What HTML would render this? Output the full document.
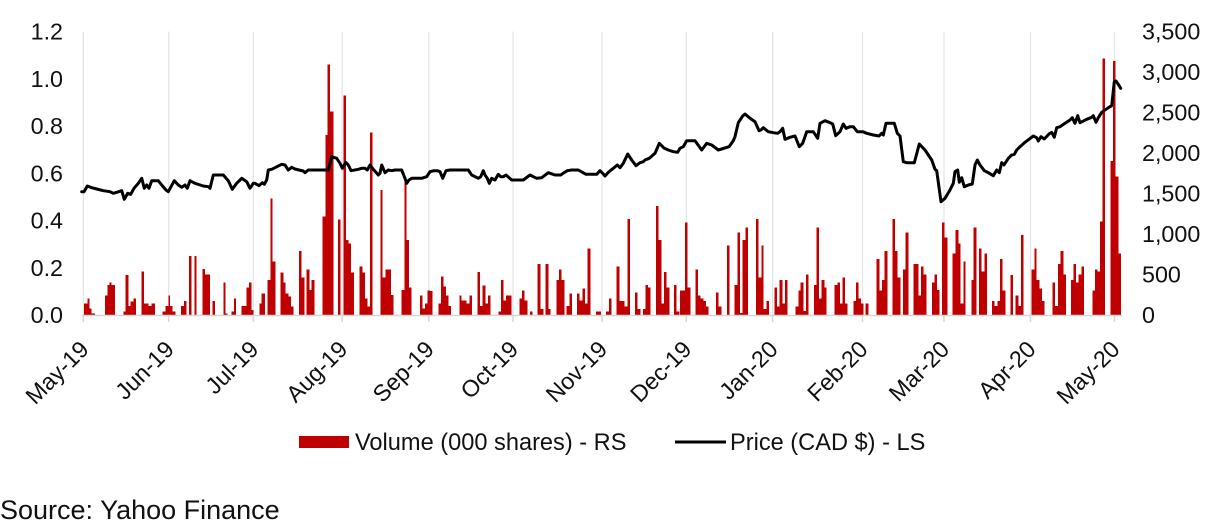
<!DOCTYPE html>
<html>
<head>
<meta charset="utf-8">
<style>
html,body{margin:0;padding:0;background:#fff;}
body{width:1205px;height:526px;overflow:hidden;}
svg{display:block;}
text{font-family:"Liberation Sans",Arial,sans-serif;fill:#111;}
</style>
</head>
<body>
<svg width="1205" height="526" viewBox="0 0 1205 526" xmlns="http://www.w3.org/2000/svg">
<rect x="0" y="0" width="1205" height="526" fill="#fff"/>

<g stroke="#e4e4e4" stroke-width="1.2">
<line x1="83.4" y1="31.5" x2="83.4" y2="315"/>
<line x1="168.7" y1="31.5" x2="168.7" y2="315"/>
<line x1="253.3" y1="31.5" x2="253.3" y2="315"/>
<line x1="342.2" y1="31.5" x2="342.2" y2="315"/>
<line x1="428.8" y1="31.5" x2="428.8" y2="315"/>
<line x1="513" y1="31.5" x2="513" y2="315"/>
<line x1="602" y1="31.5" x2="602" y2="315"/>
<line x1="686.3" y1="31.5" x2="686.3" y2="315"/>
<line x1="772.6" y1="31.5" x2="772.6" y2="315"/>
<line x1="862.5" y1="31.5" x2="862.5" y2="315"/>
<line x1="944" y1="31.5" x2="944" y2="315"/>
<line x1="1030.5" y1="31.5" x2="1030.5" y2="315"/>
<line x1="1114.5" y1="31.5" x2="1114.5" y2="315"/>
</g>

<g fill="#c00000" shape-rendering="crispEdges">
<rect x="84" y="303.3" width="3.3" height="11.7"/>
<rect x="87.3" y="298.3" width="2" height="16.7"/>
<rect x="89.3" y="308.3" width="2" height="6.7"/>
<rect x="91.3" y="313.3" width="3.7" height="1.7"/>
<rect x="105" y="295.7" width="2.3" height="19.3"/>
<rect x="107.3" y="285" width="2" height="30"/>
<rect x="109.3" y="282.7" width="2.4" height="32.3"/>
<rect x="111.7" y="285" width="3.3" height="30"/>
<rect x="123.3" y="311.7" width="2.4" height="3.3"/>
<rect x="125.7" y="275" width="2.6" height="40"/>
<rect x="128.3" y="306" width="2.4" height="9"/>
<rect x="130.7" y="301.7" width="2.6" height="13.3"/>
<rect x="133.3" y="298.3" width="2.7" height="16.7"/>
<rect x="141.7" y="271.7" width="2.3" height="43.3"/>
<rect x="144" y="303.3" width="4.3" height="11.7"/>
<rect x="148.3" y="306" width="3.4" height="9"/>
<rect x="151.7" y="303.3" width="3.3" height="11.7"/>
<rect x="162.7" y="311.7" width="2.6" height="3.3"/>
<rect x="165.3" y="306" width="3" height="9"/>
<rect x="168.3" y="295.7" width="1.7" height="19.3"/>
<rect x="170" y="306" width="2.7" height="9"/>
<rect x="172.7" y="311.7" width="3" height="3.3"/>
<rect x="181" y="306" width="3" height="9"/>
<rect x="184" y="301" width="2.7" height="14"/>
<rect x="189" y="256" width="2.7" height="59"/>
<rect x="194.3" y="256" width="2.4" height="59"/>
<rect x="202.3" y="269" width="2.7" height="46"/>
<rect x="205" y="274.3" width="5" height="40.7"/>
<rect x="212.3" y="301" width="2.7" height="14"/>
<rect x="223.3" y="282.3" width="2.4" height="32.7"/>
<rect x="225.7" y="313.3" width="2" height="1.7"/>
<rect x="231.7" y="311.7" width="2.3" height="3.3"/>
<rect x="234" y="298.3" width="2" height="16.7"/>
<rect x="241.7" y="306" width="5" height="9"/>
<rect x="246.7" y="287.3" width="2.3" height="27.7"/>
<rect x="249" y="282.3" width="2.7" height="32.7"/>
<rect x="251.7" y="310" width="1.6" height="5"/>
<rect x="259.7" y="303.3" width="2" height="11.7"/>
<rect x="261.7" y="293.3" width="3.3" height="21.7"/>
<rect x="267.7" y="280" width="2.6" height="35"/>
<rect x="270.3" y="198.3" width="2.4" height="116.7"/>
<rect x="272.7" y="261.7" width="3" height="53.3"/>
<rect x="280.7" y="272.3" width="2.6" height="42.7"/>
<rect x="283.3" y="282.7" width="2.4" height="32.3"/>
<rect x="285.7" y="293.3" width="2.6" height="21.7"/>
<rect x="288.3" y="296.7" width="2.7" height="18.3"/>
<rect x="291" y="306.7" width="2.7" height="8.3"/>
<rect x="299" y="251" width="2.7" height="64"/>
<rect x="301.7" y="277.7" width="2.6" height="37.3"/>
<rect x="306.7" y="269.3" width="2.6" height="45.7"/>
<rect x="309.3" y="290" width="2.4" height="25"/>
<rect x="311.7" y="280" width="3" height="35"/>
<rect x="322.7" y="216.7" width="3" height="98.3"/>
<rect x="325.7" y="135" width="2" height="180"/>
<rect x="327.7" y="64.3" width="2.3" height="250.7"/>
<rect x="330" y="111.7" width="3.3" height="203.3"/>
<rect x="338" y="219.3" width="2.7" height="95.7"/>
<rect x="343.3" y="95.7" width="2.7" height="219.3"/>
<rect x="346" y="240" width="2.3" height="75"/>
<rect x="348.3" y="243.3" width="2.7" height="71.7"/>
<rect x="351" y="272.3" width="3" height="42.7"/>
<rect x="359.3" y="266.7" width="3" height="48.3"/>
<rect x="362.3" y="272.3" width="2.7" height="42.7"/>
<rect x="365" y="298.3" width="2.3" height="16.7"/>
<rect x="367.3" y="306.7" width="2.7" height="8.3"/>
<rect x="370" y="132.3" width="2.3" height="182.7"/>
<rect x="380.3" y="190" width="2.4" height="125"/>
<rect x="382.7" y="277.7" width="3" height="37.3"/>
<rect x="385.7" y="269.3" width="5.3" height="45.7"/>
<rect x="391" y="295" width="2.3" height="20"/>
<rect x="401.7" y="290" width="2.6" height="25"/>
<rect x="404.3" y="178.3" width="2.4" height="136.7"/>
<rect x="406.7" y="240" width="2.3" height="75"/>
<rect x="409" y="287.7" width="2.7" height="27.3"/>
<rect x="420" y="295.7" width="2.7" height="19.3"/>
<rect x="422.7" y="308.3" width="2.3" height="6.7"/>
<rect x="425" y="303.3" width="2.7" height="11.7"/>
<rect x="427.7" y="290.3" width="2.3" height="24.7"/>
<rect x="430" y="291" width="2.7" height="24"/>
<rect x="438.3" y="303.3" width="2.7" height="11.7"/>
<rect x="441" y="276.7" width="2.3" height="38.3"/>
<rect x="443.3" y="286.7" width="2.7" height="28.3"/>
<rect x="446" y="295.7" width="2.3" height="19.3"/>
<rect x="448.3" y="306" width="2.7" height="9"/>
<rect x="459.3" y="295.7" width="2.4" height="19.3"/>
<rect x="461.7" y="300.7" width="5" height="14.3"/>
<rect x="466.7" y="303.3" width="2.6" height="11.7"/>
<rect x="469.3" y="295.7" width="2.7" height="19.3"/>
<rect x="477.7" y="272" width="2.3" height="43"/>
<rect x="480" y="306" width="2.7" height="9"/>
<rect x="482.7" y="285.7" width="2.6" height="29.3"/>
<rect x="485.3" y="303.3" width="2.7" height="11.7"/>
<rect x="488" y="295.7" width="2.7" height="19.3"/>
<rect x="498.3" y="311.7" width="2.7" height="3.3"/>
<rect x="501" y="280" width="2.3" height="35"/>
<rect x="503.3" y="300.7" width="2.7" height="14.3"/>
<rect x="506" y="295.7" width="2.7" height="19.3"/>
<rect x="508.7" y="295.7" width="2.6" height="19.3"/>
<rect x="519.3" y="298.3" width="2.7" height="16.7"/>
<rect x="522" y="290.7" width="2.3" height="24.3"/>
<rect x="524.3" y="300.7" width="3" height="14.3"/>
<rect x="530" y="311.7" width="2.7" height="3.3"/>
<rect x="537.7" y="264" width="2.6" height="51"/>
<rect x="540.3" y="309" width="3" height="6"/>
<rect x="545.7" y="264" width="2.6" height="51"/>
<rect x="548.3" y="309" width="2.4" height="6"/>
<rect x="556.3" y="280" width="2.7" height="35"/>
<rect x="559" y="269.3" width="2.7" height="45.7"/>
<rect x="561.7" y="280" width="2.6" height="35"/>
<rect x="566.7" y="306" width="2.6" height="9"/>
<rect x="569.3" y="293.3" width="2.7" height="21.7"/>
<rect x="577" y="293.3" width="2.7" height="21.7"/>
<rect x="579.7" y="300.7" width="2.6" height="14.3"/>
<rect x="582.3" y="288.3" width="2.7" height="26.7"/>
<rect x="585" y="303.3" width="2.7" height="11.7"/>
<rect x="587.7" y="248.3" width="2.6" height="66.7"/>
<rect x="596" y="311.7" width="5" height="3.3"/>
<rect x="606" y="311.7" width="3" height="3.3"/>
<rect x="609" y="298.3" width="2.7" height="16.7"/>
<rect x="616.7" y="266.7" width="2.6" height="48.3"/>
<rect x="619.3" y="301" width="5" height="14"/>
<rect x="624.3" y="306.7" width="3" height="8.3"/>
<rect x="627.3" y="219" width="2.7" height="96"/>
<rect x="635" y="292.7" width="2.7" height="22.3"/>
<rect x="637.7" y="309" width="2.6" height="6"/>
<rect x="643" y="309" width="2.3" height="6"/>
<rect x="645.3" y="285" width="2.7" height="30"/>
<rect x="648" y="287.7" width="2.7" height="27.3"/>
<rect x="656" y="206" width="2.7" height="109"/>
<rect x="658.7" y="240" width="2.6" height="75"/>
<rect x="661.3" y="303.3" width="2.7" height="11.7"/>
<rect x="664" y="272" width="2.7" height="43"/>
<rect x="666.7" y="287.7" width="2.6" height="27.3"/>
<rect x="674" y="285" width="2.7" height="30"/>
<rect x="676.7" y="311.7" width="2.6" height="3.3"/>
<rect x="680" y="290.3" width="5" height="24.7"/>
<rect x="685" y="222.3" width="2.7" height="92.7"/>
<rect x="687.7" y="287.7" width="2.6" height="27.3"/>
<rect x="695.3" y="269.3" width="2.7" height="45.7"/>
<rect x="698" y="295.7" width="2.7" height="19.3"/>
<rect x="700.7" y="298.3" width="2.6" height="16.7"/>
<rect x="703.3" y="301" width="2.7" height="14"/>
<rect x="706" y="306.7" width="2.7" height="8.3"/>
<rect x="716" y="292.7" width="2.7" height="22.3"/>
<rect x="718.7" y="306.7" width="2.6" height="8.3"/>
<rect x="727" y="245.7" width="2.7" height="69.3"/>
<rect x="734.7" y="285" width="2.6" height="30"/>
<rect x="737.3" y="232.3" width="2.7" height="82.7"/>
<rect x="740" y="313" width="2.7" height="2"/>
<rect x="742.7" y="240" width="2.6" height="75"/>
<rect x="745.3" y="227.3" width="2.7" height="87.7"/>
<rect x="756" y="219" width="2.7" height="96"/>
<rect x="758.7" y="277.3" width="2.6" height="37.7"/>
<rect x="761.3" y="245.7" width="2.4" height="69.3"/>
<rect x="763.7" y="309" width="2.6" height="6"/>
<rect x="766.3" y="301" width="2.7" height="14"/>
<rect x="774.3" y="287.7" width="2.7" height="27.3"/>
<rect x="777" y="306.7" width="2.7" height="8.3"/>
<rect x="779.7" y="280" width="2.6" height="35"/>
<rect x="782.3" y="303.3" width="2.7" height="11.7"/>
<rect x="785" y="280" width="2.3" height="35"/>
<rect x="795.3" y="306.7" width="3" height="8.3"/>
<rect x="798.3" y="290.7" width="2.4" height="24.3"/>
<rect x="800.7" y="282.7" width="2.6" height="32.3"/>
<rect x="803.3" y="311" width="2.7" height="4"/>
<rect x="806" y="274.3" width="2.7" height="40.7"/>
<rect x="814" y="285" width="2.7" height="30"/>
<rect x="816.7" y="227.3" width="2.3" height="87.7"/>
<rect x="819" y="298.3" width="2.7" height="16.7"/>
<rect x="821.7" y="280" width="2.6" height="35"/>
<rect x="824.3" y="287.7" width="2.4" height="27.3"/>
<rect x="834.3" y="285" width="3" height="30"/>
<rect x="837.3" y="282.7" width="2.7" height="32.3"/>
<rect x="840" y="303.3" width="2.7" height="11.7"/>
<rect x="842.7" y="277.3" width="2.3" height="37.7"/>
<rect x="845" y="303.3" width="2.7" height="11.7"/>
<rect x="853.3" y="301" width="2.7" height="14"/>
<rect x="856" y="282.7" width="2.7" height="32.3"/>
<rect x="858.7" y="298.3" width="2.3" height="16.7"/>
<rect x="861" y="303.3" width="2.3" height="11.7"/>
<rect x="865.7" y="303.3" width="2.6" height="11.7"/>
<rect x="876.7" y="259" width="2.6" height="56"/>
<rect x="879.3" y="290.7" width="2.7" height="24.3"/>
<rect x="882" y="280" width="2.7" height="35"/>
<rect x="884.7" y="251" width="2.6" height="64"/>
<rect x="892.3" y="219" width="2.7" height="96"/>
<rect x="895" y="251" width="2.7" height="64"/>
<rect x="897.7" y="277.3" width="2.6" height="37.7"/>
<rect x="903" y="269.3" width="2.7" height="45.7"/>
<rect x="905.7" y="232.3" width="2.6" height="82.7"/>
<rect x="913.3" y="264" width="5" height="51"/>
<rect x="918.3" y="295.7" width="2.7" height="19.3"/>
<rect x="921" y="266.7" width="2.7" height="48.3"/>
<rect x="923.7" y="274.3" width="2.6" height="40.7"/>
<rect x="932" y="282.7" width="2.7" height="32.3"/>
<rect x="934.7" y="274.3" width="2.3" height="40.7"/>
<rect x="937" y="290" width="2.3" height="25"/>
<rect x="942" y="222.3" width="2.7" height="92.7"/>
<rect x="944.7" y="237.7" width="2.6" height="77.3"/>
<rect x="952.7" y="253.3" width="3" height="61.7"/>
<rect x="955.7" y="230" width="2.6" height="85"/>
<rect x="958.3" y="243.3" width="2.4" height="71.7"/>
<rect x="960.7" y="303.3" width="2.6" height="11.7"/>
<rect x="963.3" y="261.7" width="2.4" height="53.3"/>
<rect x="971.3" y="280" width="2.4" height="35"/>
<rect x="973.7" y="227.3" width="2.6" height="87.7"/>
<rect x="979" y="248.3" width="2.7" height="66.7"/>
<rect x="981.7" y="271.7" width="2.6" height="43.3"/>
<rect x="984.3" y="253.7" width="2.7" height="61.3"/>
<rect x="992" y="301" width="2.7" height="14"/>
<rect x="994.7" y="306" width="2.6" height="9"/>
<rect x="997.3" y="301" width="2.7" height="14"/>
<rect x="1000" y="259" width="2.7" height="56"/>
<rect x="1002.7" y="290.7" width="2.6" height="24.3"/>
<rect x="1010.3" y="275" width="2.7" height="40"/>
<rect x="1015.7" y="295.7" width="2.6" height="19.3"/>
<rect x="1018.3" y="306" width="2.7" height="9"/>
<rect x="1021" y="235" width="2.7" height="80"/>
<rect x="1031.7" y="269.3" width="2.6" height="45.7"/>
<rect x="1034.3" y="248.3" width="2.4" height="66.7"/>
<rect x="1036.7" y="280" width="2.6" height="35"/>
<rect x="1039.3" y="288.3" width="2.7" height="26.7"/>
<rect x="1042" y="301" width="2.7" height="14"/>
<rect x="1052.3" y="282.7" width="2.7" height="32.3"/>
<rect x="1055" y="306" width="3" height="9"/>
<rect x="1058" y="264" width="2.7" height="51"/>
<rect x="1060.7" y="251" width="2.6" height="64"/>
<rect x="1063.3" y="274.3" width="2.7" height="40.7"/>
<rect x="1071" y="280" width="2.7" height="35"/>
<rect x="1073.7" y="264" width="2.3" height="51"/>
<rect x="1076" y="282.7" width="2.7" height="32.3"/>
<rect x="1078.7" y="274.3" width="2.6" height="40.7"/>
<rect x="1081.3" y="266.7" width="2.7" height="48.3"/>
<rect x="1092.3" y="290.7" width="2.7" height="24.3"/>
<rect x="1095" y="269.3" width="2.3" height="45.7"/>
<rect x="1097.3" y="271.7" width="2.7" height="43.3"/>
<rect x="1100" y="221.7" width="2.7" height="93.3"/>
<rect x="1102.7" y="58.3" width="2.3" height="256.7"/>
<rect x="1110.3" y="161" width="2.7" height="154"/>
<rect x="1113" y="61" width="2.7" height="254"/>
<rect x="1115.7" y="176.7" width="2.6" height="138.3"/>
<rect x="1118.3" y="253.3" width="2.7" height="61.7"/>
</g>

<g stroke="#d6d6d6" stroke-width="1.5">
<line x1="82" y1="315.5" x2="1122" y2="315.5"/>
<line x1="83.4" y1="315" x2="83.4" y2="322"/>
<line x1="168.7" y1="315" x2="168.7" y2="322"/>
<line x1="253.3" y1="315" x2="253.3" y2="322"/>
<line x1="342.2" y1="315" x2="342.2" y2="322"/>
<line x1="428.8" y1="315" x2="428.8" y2="322"/>
<line x1="513" y1="315" x2="513" y2="322"/>
<line x1="602" y1="315" x2="602" y2="322"/>
<line x1="686.3" y1="315" x2="686.3" y2="322"/>
<line x1="772.6" y1="315" x2="772.6" y2="322"/>
<line x1="862.5" y1="315" x2="862.5" y2="322"/>
<line x1="944" y1="315" x2="944" y2="322"/>
<line x1="1030.5" y1="315" x2="1030.5" y2="322"/>
<line x1="1114.5" y1="315" x2="1114.5" y2="322"/>
</g>

<polyline fill="none" stroke="#000" stroke-width="3" stroke-linejoin="round" stroke-linecap="round" points="81.7,191.7 84,191.7 87.3,186 91.7,187.7 96.7,189 103.3,190.7 110,191.7 113.3,193.3 116.7,192.3 121.7,190.7 124.3,199.3 127.7,193.3 130.7,194.3 134,188.3 138.3,183.3 141.7,178.3 144.3,188.3 146.7,185 149,188.3 151.7,180.7 158.3,180.7 161.7,185 166,190 168.3,191.7 174.3,180.7 178.3,185 181.7,187.3 185,185 187.3,188.3 190,180.7 195,183.3 203.3,186 208.3,186.7 210,188.3 213.3,175 223.3,175 228.3,180.7 232.3,189.3 236.7,183.3 241.7,178.3 246.7,181.7 250,188.3 253.3,183.3 255,183.3 259,185.7 262.3,182.7 264.3,184.3 266.7,180 268.3,170 271.7,169.3 275.7,167.3 281.7,164.3 285,165 288.3,170 291.7,167.3 295,169 299,170 303.3,171 305,172.7 308.3,170 328.3,170 331.7,156.7 336.7,158.3 340,163.3 342.3,168.3 345.7,162.3 348.3,165 351,170.7 358.3,169.3 361.7,168.3 365,168.3 367.3,170 370,165 373.3,169.3 378.3,175 380,173.3 381.7,165 385,172.7 388.3,170 391.7,170.7 395,170 401.7,170 405,178.3 406.7,183.3 409,180 411.7,178.3 421.7,178.3 426.7,176.7 430,171.7 434,170.7 437.3,170.7 440,171.7 442.7,178.3 446,170.7 450,170 468.3,170 471.7,175 478.3,178.3 480.7,176.7 483.3,170.7 485,175 487.3,178.3 489.3,183.3 491.7,178.3 495,180 498.3,174.3 500.7,176.7 503.3,176.7 506,175 511.7,180 523.3,180 530,175 533.3,176.7 536.7,178.3 541.7,177.7 548.3,172.7 555,175 560.7,175 564,172.7 567.3,170.7 571.7,170 578.3,170 586,174.3 593.3,174.3 596.7,174.3 600,170.7 603.3,174 605,176 609,171.7 613.3,168.3 617.3,165 620,167.7 623.3,163.3 627.7,154 631.7,160 636,165.7 640,162.7 643.3,161.7 645,160 649.3,158.3 655,153.3 659.3,143.3 664.3,148.3 668.3,150 673.3,151.7 677.7,152.3 680,148.3 683.3,146.7 686.7,140.7 695,140.7 701.7,150 706.7,143.3 711.7,145 718.3,150 721.7,149 729,146.7 733.3,140.7 735,136.7 738.3,122.7 742.7,116 745,114 750,118.3 755,121.7 759,130.7 761,130 763.3,127.7 768.3,131.7 773.3,132.7 777.7,133.3 780,131.7 782.7,128.3 785,139.3 790,137.3 795,136 799.3,146.7 802.7,143.3 806.7,131.7 813.3,131.7 817.7,138.3 820,123.3 825,120.7 830,122.7 832.7,124 835.7,135.7 840,131.7 843.3,124 846,128.3 850,126.7 853.3,126.7 857.3,131.7 862.7,131.7 866.7,133.3 873.3,135 879,136 881.7,133.3 883.3,135 886,123.3 894.3,123.3 897.3,133.3 900,136 903.3,161.7 906.7,162.7 914.3,162.7 919.3,144 925,150 931.7,160 935,169.3 936.7,170.7 941,201.7 945,198.3 950,190 953.3,183.3 955,171.7 957.7,170 959.3,182.3 961.7,177.7 964.3,186.7 968.3,185 972.3,184 975,165 977.3,160 980,165 984.3,170.7 988.3,172.7 993.3,175.7 996.7,170 999.3,172.7 1001.7,162.7 1004,165 1008.3,158.3 1011.7,155 1014.3,154.3 1016.7,150 1020,146.7 1025,142.3 1033.3,136 1036.7,137.7 1038.3,141 1041,136.7 1044.3,139 1049,134 1051.7,132.3 1054.3,137.3 1056.7,127.7 1060,126.7 1065,123.3 1070,120 1072.3,117.7 1075,123.3 1077.7,115.7 1080,122.7 1086.7,119.3 1091.7,117.3 1093.3,115.7 1096,122.3 1098.3,117.7 1101.7,112.3 1108.3,107.7 1111.7,105.7 1114.3,81.7 1116,81 1118.3,84.3 1120.7,88.3"/>

<g font-size="23.3" text-anchor="end">
<text x="63" y="39.5">1.2</text>
<text x="63" y="86.8">1.0</text>
<text x="63" y="134">0.8</text>
<text x="63" y="181.3">0.6</text>
<text x="63" y="228.5">0.4</text>
<text x="63" y="275.8">0.2</text>
<text x="63" y="323">0.0</text>
</g>

<g font-size="23.3" text-anchor="start">
<text x="1142" y="39.5">3,500</text>
<text x="1142" y="80">3,000</text>
<text x="1142" y="120.5">2,500</text>
<text x="1142" y="161">2,000</text>
<text x="1142" y="201.5">1,500</text>
<text x="1142" y="242">1,000</text>
<text x="1142" y="282.5">500</text>
<text x="1142" y="323">0</text>
</g>

<g font-size="23.3" text-anchor="end">
<text transform="translate(84.5,345) rotate(-45)" dy="8">May-19</text>
<text transform="translate(169.7,345) rotate(-45)" dy="8">Jun-19</text>
<text transform="translate(254.3,345) rotate(-45)" dy="8">Jul-19</text>
<text transform="translate(343.2,345) rotate(-45)" dy="8">Aug-19</text>
<text transform="translate(429.8,345) rotate(-45)" dy="8">Sep-19</text>
<text transform="translate(514,345) rotate(-45)" dy="8">Oct-19</text>
<text transform="translate(603,345) rotate(-45)" dy="8">Nov-19</text>
<text transform="translate(687.3,345) rotate(-45)" dy="8">Dec-19</text>
<text transform="translate(773.6,345) rotate(-45)" dy="8">Jan-20</text>
<text transform="translate(863.5,345) rotate(-45)" dy="8">Feb-20</text>
<text transform="translate(945,345) rotate(-45)" dy="8">Mar-20</text>
<text transform="translate(1031.5,345) rotate(-45)" dy="8">Apr-20</text>
<text transform="translate(1115.5,345) rotate(-45)" dy="8">May-20</text>
</g>

<rect x="299" y="436" width="50" height="12" fill="#c00000"/>
<text x="355" y="450" font-size="23.6">Volume (000 shares) - RS</text>
<line x1="675" y1="442" x2="726" y2="442" stroke="#000" stroke-width="3"/>
<text x="730" y="450" font-size="23.6">Price (CAD $) - LS</text>

<text x="0" y="519" font-size="27">Source: Yahoo Finance</text>
</svg>
</body>
</html>
